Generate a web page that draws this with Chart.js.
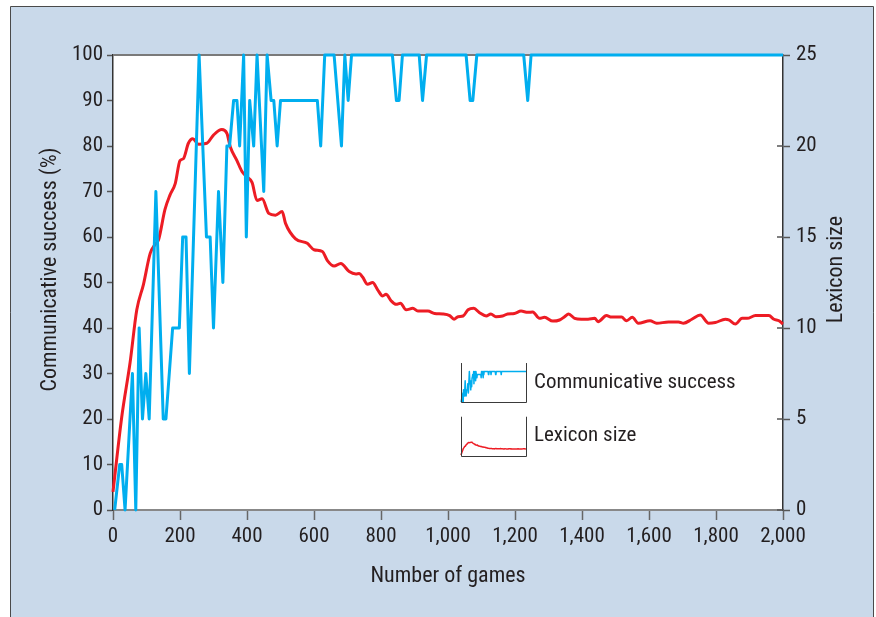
<!DOCTYPE html>
<html><head><meta charset="utf-8">
<script src="https://cdn.jsdelivr.net/npm/chart.js@4"></script>
<style>html,body{margin:0;padding:0;background:#fff}#wrap{width:876px;height:617px;position:relative}</style>
</head><body><div id="wrap"><canvas id="c" width="876" height="617"></canvas></div>
<script>
// ---- data ----
const successGames = [5,20,26,36,58,68,78,88,98,108,128,150,158,178,198,208,218,228,257,279,290,300,315,328,340,348,360,370,378,390,398,408,420,430,450,460,472,480,490,500,610,620,632,660,682,692,702,712,834,846,854,864,914,924,936,1054,1066,1074,1086,1226,1238,1248,2000];
const successValues = [0,10,10,0,30,0,40,20,30,20,70,20,20,40,40,60,60,30,100,60,60,40,70,50,80,80,90,90,80,100,60,90,80,100,70,100,90,90,80,90,90,80,100,100,80,100,90,100,100,90,90,100,100,90,100,100,90,90,100,100,90,100,100];
const lexiconGames = [0,26,51,71,91,111,126,136,155,170,186,200,210,225,238,255,280,300,325,340,350,370,385,400,415,430,445,465,485,505,515,545,580,600,625,640,660,680,705,725,735,745,760,775,790,805,815,830,845,858,875,895,910,940,960,985,1005,1018,1030,1045,1060,1077,1094,1114,1128,1143,1163,1178,1198,1218,1238,1253,1273,1288,1313,1333,1348,1360,1378,1398,1418,1438,1448,1473,1488,1518,1533,1550,1568,1603,1623,1658,1688,1703,1728,1753,1778,1798,1828,1838,1858,1878,1893,1918,1958,1973,1988,2000];
const lexiconValues = [1.0,5.1,8.1,11.0,12.4,14.1,14.6,14.85,16.5,17.3,17.95,19.2,19.3,20.15,20.4,20.1,20.15,20.6,20.9,20.7,19.96,19.2,18.6,18.3,18.0,17.0,17.1,16.3,16.2,16.4,15.75,14.9,14.65,14.3,14.2,13.7,13.4,13.55,13.1,12.97,13.0,12.8,12.4,12.5,12.1,11.76,11.85,11.5,11.3,11.36,11.0,11.08,10.93,10.93,10.8,10.77,10.68,10.48,10.62,10.66,11.0,11.08,10.84,10.66,10.77,10.62,10.66,10.77,10.8,10.93,10.86,10.88,10.53,10.59,10.38,10.44,10.62,10.77,10.53,10.48,10.48,10.53,10.35,10.68,10.6,10.6,10.4,10.59,10.26,10.4,10.26,10.33,10.33,10.26,10.48,10.71,10.26,10.3,10.48,10.45,10.22,10.53,10.53,10.68,10.68,10.48,10.4,10.22];
const xTickValues = [0,200,400,600,800,1000,1200,1400,1600,1800,2000];
const successTickValues = [0,10,20,30,40,50,60,70,80,90,100];
const lexiconTickValues = [0,5,10,15,20,25];
const seriesLabels = ['Communicative success','Lexicon size'];
const xTitle = 'Number of games';
const leftTitle = 'Communicative success (%)';
const rightTitle = 'Lexicon size';

// ---- styling ----
const FAMILY = "Roboto, 'DejaVu Sans Condensed', sans-serif";
const STRETCH = 'condensed';
const TXT = '#231f20';
const BLUE = '#00aeef';
const RED = '#ed1c24';
const tickFont = {family: FAMILY, size: 21, weight: STRETCH};
const titleFont = {family: FAMILY, size: 22, weight: STRETCH};
const canvasFont = px => STRETCH + ' ' + px + 'px ' + FAMILY;

const toPts = (xs, ys) => xs.map((x, i) => ({x, y: ys[i]}));

const decor = {
  id: 'decor',
  beforeDraw(chart) {
    const {ctx, chartArea: a, height} = chart;
    ctx.save();
    ctx.fillStyle = '#c9d9ea';
    ctx.fillRect(10, 7, 864, height);
    ctx.strokeStyle = '#4a4a4a'; ctx.lineWidth = 1;
    ctx.beginPath();
    ctx.moveTo(10.5, height + 2); ctx.lineTo(10.5, 6.5); ctx.lineTo(873.5, 6.5); ctx.lineTo(873.5, height + 2);
    ctx.stroke();
    ctx.fillStyle = '#fff';
    ctx.fillRect(a.left, a.top, a.right - a.left, a.bottom - a.top);
    ctx.restore();
  },
  beforeDatasetsDraw(chart) {
    const {ctx, chartArea: a} = chart;
    ctx.save();
    ctx.strokeStyle = '#7a7a7a'; ctx.lineWidth = 2;
    ctx.beginPath(); ctx.moveTo(a.left, a.top); ctx.lineTo(a.right, a.top); ctx.stroke();
    // inward half of right-axis ticks
    const y1 = chart.scales.y1;
    ctx.strokeStyle = '#555'; ctx.lineWidth = 1.5;
    y1.ticks.forEach(t => {
      const py = y1.getPixelForValue(t.value);
      ctx.beginPath(); ctx.moveTo(a.right - 6, py); ctx.lineTo(a.right, py); ctx.stroke();
    });
    ctx.restore();
  },
  afterDraw(chart) {
    const {ctx, chartArea: a} = chart;
    const w = a.right - a.left, h = a.bottom - a.top;
    ctx.save();
    // vertical axis titles (both read bottom-to-top)
    ctx.fillStyle = TXT;
    ctx.font = canvasFont(22);
    ctx.textAlign = 'center'; ctx.textBaseline = 'middle';
    const cy = (a.top + a.bottom) / 2 - 13;
    [[a.left - 63, leftTitle], [a.right + 53, rightTitle]].forEach(([x, t]) => {
      ctx.save(); ctx.translate(x, cy); ctx.rotate(-Math.PI / 2); ctx.fillText(t, 0, 0); ctx.restore();
    });
    // legend with mini-chart glyphs built from the series data
    const bx = a.left + w * 0.5194, bw = w * 0.097, bh = h * 0.0857;
    const rows = [
      {top: a.top + h * 0.677, ds: 0, max: 128, color: BLUE},
      {top: a.top + h * 0.795, ds: 1, max: 60, color: RED}
    ];
    rows.forEach(r => {
      const data = chart.data.datasets[r.ds].data;
      const bottom = r.top + bh;
      ctx.strokeStyle = r.color; ctx.lineWidth = 1.5; ctx.lineJoin = 'round';
      ctx.beginPath();
      data.forEach((p, i) => {
        const px = bx + (p.x / 2000) * bw;
        const py = bottom - (p.y / r.max) * bh;
        if (i === 0) ctx.moveTo(px, py); else ctx.lineTo(px, py);
      });
      ctx.stroke();
      ctx.strokeStyle = '#3a3a3a'; ctx.lineWidth = 1;
      ctx.beginPath();
      ctx.moveTo(Math.round(bx) + 0.5, r.top); ctx.lineTo(Math.round(bx) + 0.5, Math.round(bottom) + 0.5);
      ctx.lineTo(Math.round(bx + bw) + 0.5, Math.round(bottom) + 0.5); ctx.lineTo(Math.round(bx + bw) + 0.5, r.top);
      ctx.stroke();
      ctx.fillStyle = TXT; ctx.font = canvasFont(21);
      ctx.textAlign = 'left'; ctx.textBaseline = 'middle';
      ctx.fillText(chart.data.datasets[r.ds].label, bx + bw + 8, r.top + bh / 2);
    });
    ctx.restore();
  }
};

new Chart(document.getElementById('c'), {
  type: 'line',
  data: {
    datasets: [
      {label: seriesLabels[0], data: toPts(successGames, successValues), yAxisID: 'y',
       borderColor: BLUE, borderWidth: 3, pointRadius: 0, tension: 0, clip: false, borderJoinStyle: 'round'},
      {label: seriesLabels[1], data: toPts(lexiconGames, lexiconValues), yAxisID: 'y1',
       borderColor: RED, borderWidth: 3, pointRadius: 0, cubicInterpolationMode: 'monotone', clip: false, borderJoinStyle: 'round'}
    ]
  },
  options: {
    responsive: false,
    animation: false,
    layout: {padding: {top: 55, left: 0, right: 0, bottom: 0}},
    plugins: {legend: {display: false}, tooltip: {enabled: false}},
    scales: {
      x: {
        type: 'linear', min: 0, max: 2000,
        afterBuildTicks: s => { s.ticks = xTickValues.map(v => ({value: v})); },
        afterFit: s => { s.height = 107; },
        ticks: {color: TXT, font: tickFont, padding: 4, maxRotation: 0,
                callback: v => v.toLocaleString('en-US')},
        grid: {drawOnChartArea: false, drawTicks: true, tickLength: 10, tickColor: '#666', tickWidth: 1.5},
        border: {color: '#888', width: 2},
        title: {display: true, text: xTitle, color: TXT, font: titleFont, padding: {top: 0, bottom: 27}}
      },
      y: {
        position: 'left', min: 0, max: 100,
        afterBuildTicks: s => { s.ticks = successTickValues.map(v => ({value: v})); },
        afterFit: s => { s.width = 113; },
        ticks: {color: TXT, font: tickFont, padding: 4},
        grid: {drawOnChartArea: false, drawTicks: true, tickLength: 6, tickColor: '#555', tickWidth: 1.5},
        border: {color: '#333', width: 1.5}
      },
      y1: {
        position: 'right', min: 0, max: 25,
        afterBuildTicks: s => { s.ticks = lexiconTickValues.map(v => ({value: v})); },
        afterFit: s => { s.width = 93; },
        ticks: {color: TXT, font: tickFont, padding: 6},
        grid: {drawOnChartArea: false, drawTicks: true, tickLength: 7, tickColor: '#555', tickWidth: 1.5},
        border: {color: '#333', width: 1.5}
      }
    }
  },
  plugins: [decor]
});
</script>
</body></html>
